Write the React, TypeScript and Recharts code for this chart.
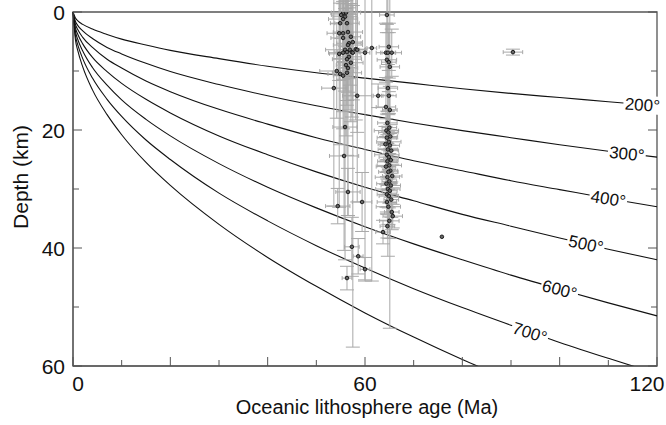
import React from "react";
import {
  ComposedChart,
  Line,
  Scatter,
  XAxis,
  YAxis,
  ErrorBar,
  ReferenceArea,
} from "recharts";

// age (Ma) sample points for the isotherm curves
const ages = [0, 0.5, 1, 2, 4, 7, 10, 15, 20, 30, 40, 50, 60, 70, 80, 90, 100, 110, 120];

// isotherm depths (km)
const iso200 = [0, 1.0, 1.5, 2.1, 2.9, 3.8, 4.6, 5.6, 6.5, 7.9, 9.2, 10.3, 11.2, 12.1, 13.0, 13.8, 14.5, 15.2, 15.9];
const iso300 = [0, 1.6, 2.3, 3.2, 4.5, 6.0, 7.1, 8.7, 10.1, 12.3, 14.2, 15.9, 17.4, 18.8, 20.1, 21.3, 22.5, 23.6, 24.6];
const iso400 = [0, 2.1, 3.0, 4.3, 6.0, 8.0, 9.5, 11.7, 13.5, 16.5, 19.0, 21.3, 23.3, 25.2, 26.9, 28.6, 30.1, 31.6, 33.0];
const iso500 = [0, 2.7, 3.8, 5.4, 7.7, 10.1, 12.1, 14.8, 17.1, 21.0, 24.2, 27.1, 29.7, 32.0, 34.3, 36.3, 38.3, 40.2, 42.0];
const iso600 = [0, 3.3, 4.7, 6.6, 9.4, 12.4, 14.9, 18.2, 21.0, 25.7, 29.7, 33.2, 36.4, 39.3, 42.0, 44.6, 47.0, 49.3, 51.5];
const iso700 = [0, 4.0, 5.6, 7.9, 11.2, 14.8, 17.7, 21.7, 25.0, 30.7, 35.4, 39.6, 43.4, 46.9, 50.1, 53.1, 56.0, 58.7, 61.3];
const iso800 = [0, 4.7, 6.6, 9.3, 13.2, 17.4, 20.8, 25.5, 29.4, 36.0, 41.6, 46.5, 51.0, 55.1, 58.9, 62.4, 65.8, 69.0, 72.1];

// isotherm labels
const labelTexts = ["200°", "300°", "400°", "500°", "600°", "700°"];
const labelAges = [117, 113.8, 110, 105.4, 100, 93.9];
const labelDepths = [15.7, 24.0, 31.6, 39.3, 47.0, 54.3];

// earthquakes: [age, depth, age error, depth error]
const clusterA = [
  [55.5, 0.2, 2.5, 3], [56.1, 0.1, 3, 2], [55.1, 0.5, 2, 4], [55.9, 0.8, 2.5, 5],
  [55.5, 1.2, 3, 3], [54.9, 1.9, 2, 6], [56.3, 1.9, 2.5, 4], [54.7, 3.6, 2.5, 8],
  [55.5, 3.6, 2, 5], [56.5, 3.4, 3, 6], [55.5, 4.4, 2.5, 7], [57.1, 4.2, 2, 10],
  [56.7, 5.3, 2.5, 6], [57.5, 5.1, 2, 51.7], [56.5, 5.6, 3, 8], [58.1, 6.3, 2, 12],
  [55.9, 6.4, 4, 7], [56.3, 6.8, 2.5, 9], [56.9, 6.4, 2, 6], [57.3, 6.8, 3, 11],
  [57.5, 6.9, 2.5, 8], [55.5, 6.9, 3, 10], [54.7, 7.1, 2, 26], [58.4, 6.4, 2, 14],
  [56.7, 7.6, 2.5, 9], [56.3, 8.0, 3, 7], [56.1, 9.0, 2, 12], [57.1, 8.6, 2.5, 10],
  [56.5, 9.5, 2, 25], [54.2, 10.0, 3.5, 8], [54.9, 10.5, 2.5, 12], [55.5, 10.8, 2, 9],
  [56.3, 10.3, 3, 14], [53.6, 12.9, 2.5, 20], [58.4, 14.2, 3, 18], [55.9, 19.5, 2.5, 22.5],
  [55.7, 24.4, 3, 16], [56.5, 30.5, 2.5, 4], [54.4, 32.9, 2.5, 3], [59.4, 32.2, 2, 5],
  [57.3, 39.8, 1.5, 5], [58.6, 41.4, 1, 3], [60.0, 43.6, 1, 2], [56.3, 45.1, 1, 2],
  [60.0, 6.9, 1, 38.5], [61.4, 6.1, 1, 39.5], [62.7, 14.2, 1, 2],
  [90.4, 6.8, 2, 0.5], [75.8, 38.1, 0, 0],
];

const clusterB = [
  [64.5, 0.5, 1.5, 3], [64.9, 5.9, 2, 4], [64.3, 6.9, 2, 5], [64.7, 6.9, 1.5, 34.5],
  [65.5, 6.9, 2, 4], [64.5, 8.1, 2, 6], [64.9, 8.5, 1.5, 5], [65.1, 9.3, 2, 44.3],
  [64.7, 12.9, 2, 4], [64.9, 14.2, 1.5, 3], [64.3, 16.1, 2, 5], [65.1, 16.6, 1.5, 4],
  [64.6, 18.8, 2, 2], [65.0, 19.6, 1.5, 3], [64.4, 20.1, 2.5, 2], [64.8, 20.4, 2, 3],
  [65.2, 21.1, 1.5, 2], [64.5, 21.3, 2, 4], [64.9, 22.0, 2.5, 2], [64.2, 22.4, 1.5, 3],
  [65.1, 22.6, 2, 2], [64.7, 23.3, 2, 3], [65.4, 23.5, 1.5, 2], [64.5, 24.2, 2.5, 3],
  [64.9, 24.6, 2, 2], [65.3, 25.1, 1.5, 4], [64.6, 25.3, 2, 3], [65.0, 26.0, 2.5, 2],
  [64.3, 26.2, 2, 3], [65.2, 26.9, 1.5, 2], [64.8, 27.1, 2, 3], [65.6, 27.8, 2, 2],
  [64.6, 28.0, 2.5, 3], [65.0, 28.7, 1.5, 2], [64.4, 29.1, 2, 4], [65.3, 29.4, 2, 2],
  [64.7, 30.0, 2.5, 3], [65.1, 30.3, 1.5, 2], [64.5, 30.9, 2, 3], [64.9, 31.2, 2, 2],
  [65.4, 31.8, 1.5, 3], [64.5, 32.2, 2, 2], [64.8, 33.0, 2.5, 3], [65.5, 33.9, 1.5, 3],
  [65.7, 34.6, 2, 2], [65.0, 35.4, 2, 3], [64.6, 36.3, 1.5, 2], [63.7, 37.3, 1.5, 2],
];

const xTicks = [0, 10, 20, 30, 40, 50, 60, 70, 80, 90, 100, 110, 120];
const xLabels = [0, 60, 120];
const yTicks = [0, 10, 20, 30, 40, 50, 60];
const yLabels = [0, 20, 40, 60];

const FONT = '"Liberation Sans", Arial, Helvetica, sans-serif';
const AXIS = "#555";
const ERR = "#a8a8a8";
const labelTilt: Record<string, number> = {
  "200°": 4, "300°": 6, "400°": 9, "500°": 12, "600°": 15, "700°": 18,
};

const curveRows = ages.map((age, i) => ({
  age,
  t200: iso200[i],
  t300: iso300[i],
  t400: iso400[i],
  t500: iso500[i],
  t600: iso600[i],
  t700: iso700[i],
  t800: iso800[i],
}));
const curveKeys = ["t200", "t300", "t400", "t500", "t600", "t700", "t800"];

const labelRows = labelTexts.map((text, i) => ({ age: labelAges[i], depth: labelDepths[i], text }));

const quakeRows = [...clusterA, ...clusterB].map(([age, depth, ageErr, depthErr]) => ({
  age,
  depth,
  ageErr,
  depthErr,
}));

// plot box: x 73..657, y 12..366
const PLOT_RIGHT = 657;

function BottomTick({ x, y, payload }: any) {
  const v = payload.value;
  const len = v % 20 === 0 ? 9 : 6;
  // keep the end labels inside the figure, as in the original
  const shift = v === 0 ? 5 : v === 120 ? -10 : 0;
  return (
    <g>
      <line x1={x} y1={y} x2={x} y2={y - len} stroke={AXIS} />
      {xLabels.includes(v) && (
        <text x={x + shift} y={y + 25} textAnchor="middle" fontSize={21} fontFamily={FONT} fill="#111">
          {v}
        </text>
      )}
    </g>
  );
}

// left axis tick also draws the matching inward tick on the right frame
function LeftTick({ x, y, payload }: any) {
  const v = payload.value;
  const len = v % 20 === 0 ? 9 : 6;
  return (
    <g>
      <line x1={x} y1={y} x2={x + len} y2={y} stroke={AXIS} />
      <line x1={PLOT_RIGHT} y1={y} x2={PLOT_RIGHT - len} y2={y} stroke={AXIS} />
      {yLabels.includes(v) && (
        <text x={x - 8} y={y} dy="0.36em" textAnchor="end" fontSize={21} fontFamily={FONT} fill="#111">
          {v}
        </text>
      )}
    </g>
  );
}

function Dot({ cx, cy }: any) {
  if (cx == null || cy == null) return null;
  return <circle cx={cx} cy={cy} r={1.8} fill="#666" stroke="#111" strokeWidth={0.9} />;
}

function IsoLabel({ cx, cy, payload }: any) {
  if (cx == null || cy == null) return null;
  const a = labelTilt[payload.text] ?? 0;
  return (
    <g transform={`rotate(${a} ${cx} ${cy})`}>
      <rect x={cx - 19} y={cy - 9} width={38} height={18} fill="#fff" />
      <text x={cx} y={cy} dy="0.36em" textAnchor="middle" fontSize={17} fontFamily={FONT} fill="#111">
        {payload.text}
      </text>
    </g>
  );
}

export default function App() {
  return (
    <div style={{ position: "absolute", left: 0, top: 0, background: "#fff" }}>
      <ComposedChart
        width={666}
        height={425}
        data={curveRows}
        margin={{ top: 12, right: 9, bottom: 0, left: 0 }}
      >
        <XAxis
          dataKey="age"
          type="number"
          domain={[0, 120]}
          ticks={xTicks}
          interval={0}
          height={59}
          tickSize={0}
          tickMargin={0}
          tick={<BottomTick />}
          axisLine={{ stroke: AXIS }}
          label={{
            content: () => (
              <text x={367} y={414} textAnchor="middle" fontSize={20} fontFamily={FONT} fill="#111">
                Oceanic lithosphere age (Ma)
              </text>
            ),
          }}
        />
        <YAxis
          yAxisId="d"
          type="number"
          domain={[0, 60]}
          reversed
          allowDataOverflow
          ticks={yTicks}
          interval={0}
          width={73}
          tickSize={0}
          tickMargin={0}
          tick={<LeftTick />}
          axisLine={{ stroke: AXIS }}
          label={{
            content: () => (
              <text
                x={22}
                y={177}
                transform="rotate(-90 22 177)"
                textAnchor="middle"
                dominantBaseline="middle"
                fontSize={21}
                fontFamily={FONT}
                fill="#111"
              >
                Depth (km)
              </text>
            ),
          }}
        />
        <YAxis yAxisId="lab" type="number" domain={[0, 60]} reversed hide />
        <ReferenceArea
          yAxisId="d"
          x1={0}
          x2={120}
          y1={0}
          y2={60}
          fill="none"
          fillOpacity={0}
          stroke={AXIS}
          strokeWidth={1.3}
          ifOverflow="visible"
        />
        {curveKeys.map((k) => (
          <Line
            key={k}
            yAxisId="d"
            dataKey={k}
            type="monotone"
            stroke="#111"
            strokeWidth={1.1}
            dot={false}
            activeDot={false}
            isAnimationActive={false}
          />
        ))}
        <Scatter
          yAxisId="d"
          data={quakeRows}
          dataKey="depth"
          shape={<Dot />}
          isAnimationActive={false}
        >
          <ErrorBar dataKey="ageErr" direction="x" width={2} stroke={ERR} strokeWidth={1} />
          <ErrorBar dataKey="depthErr" direction="y" width={7} stroke={ERR} strokeWidth={1} />
        </Scatter>
        <Scatter
          yAxisId="lab"
          data={labelRows}
          dataKey="depth"
          shape={<IsoLabel />}
          isAnimationActive={false}
        />
      </ComposedChart>
    </div>
  );
}
